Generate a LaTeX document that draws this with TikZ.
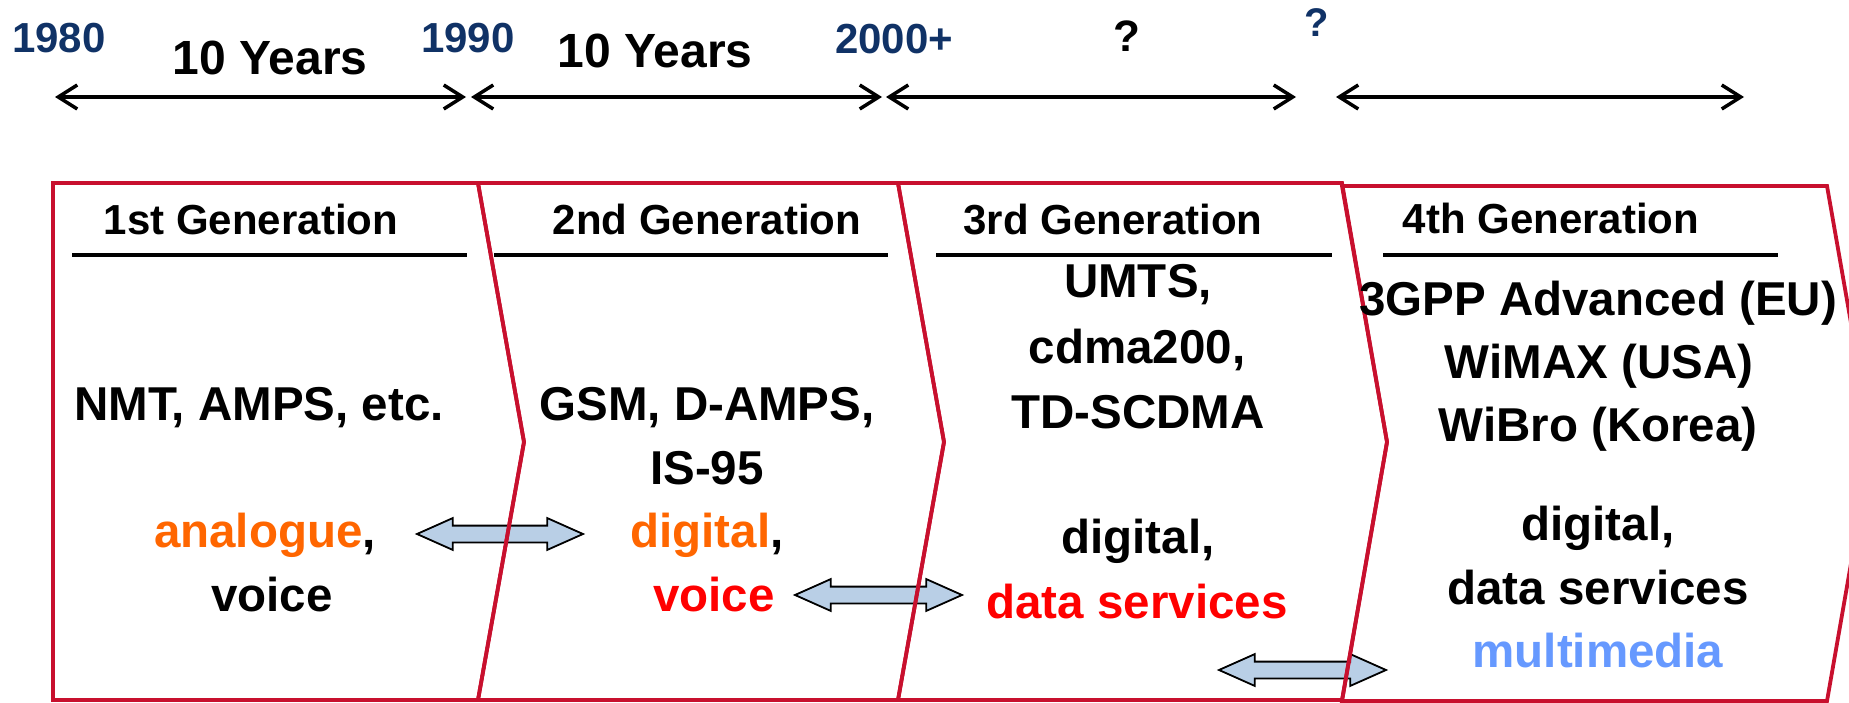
\documentclass[tikz,border=0pt]{standalone}
\usepackage{fontspec}
\setmainfont{Liberation Sans}
\usetikzlibrary{arrows.meta,shapes.arrows}
\definecolor{boxred}{RGB}{200,16,46}
\definecolor{navy}{RGB}{16,50,102}
\definecolor{orng}{RGB}{255,102,0}
\definecolor{txtred}{RGB}{255,0,0}
\definecolor{mmblue}{RGB}{102,153,255}
\definecolor{arrfill}{RGB}{185,207,230}
\begin{document}
\begin{tikzpicture}[x=1pt,y=-1pt,
  gen/.style={draw=boxred, line width=3.8pt, line join=miter},
  hdr/.style={anchor=base, inner sep=0pt, font=\bfseries\fontsize{42}{46}\selectfont},
  body/.style={anchor=base, inner sep=0pt, font=\bfseries\fontsize{47.5}{52}\selectfont},
  yr/.style={anchor=base, inner sep=0pt, text=navy, font=\bfseries\fontsize{42}{46}\selectfont},
  ylab/.style={anchor=base, inner sep=0pt, font=\bfseries\fontsize{48}{52}\selectfont},
  span/.style={line width=3.5pt, {Straight Barb[length=19pt,width=24pt]}-{Straight Barb[length=19pt,width=24pt]}},
  barr/.style={draw=black, fill=arrfill, line width=1.8pt, shape=double arrow, double arrow head extend=7.5pt, double arrow tip angle=48, inner sep=0pt},
  uline/.style={draw=black, line width=3.8pt}
]
\newcommand{\shaftstrut}{\rule{0pt}{15pt}}
\useasboundingbox (0,0) rectangle (1849,703);
\begin{scope}
\clip (0,0) rectangle (1849,703);

% timeline labels
\node[yr] (y1980) at (59,53) {1980};
\node[ylab] (d1) at (270,75) {10 Years};
\node[yr] (y1990) at (468,53) {1990};
\node[ylab] (d2) at (655,68) {10 Years};
\node[yr] (y2000) at (894,54) {2000+};
\node[anchor=base, inner sep=0pt, font=\bfseries\fontsize{44}{48}\selectfont] (q1) at (1127,52) {?};
\node[anchor=base, inner sep=0pt, text=navy, font=\bfseries\fontsize{40}{44}\selectfont] (q2) at (1317,37) {?};

% timeline arrows
\coordinate (a1l) at (55,97);  \coordinate (a1r) at (466,97);
\coordinate (a2l) at (471,97); \coordinate (a2r) at (882,97);
\coordinate (a3l) at (886,97); \coordinate (a3r) at (1296,97);
\coordinate (a4l) at (1336,97); \coordinate (a4r) at (1744,97);
\draw[span] (a1l) -- (a1r);
\draw[span] (a2l) -- (a2r);
\draw[span] (a3l) -- (a3r);
\draw[span] (a4l) -- (a4r);

% block arrows between generations
\node[barr, minimum height=166pt] (bA) at (500,534) {\shaftstrut};
\node[barr, minimum height=167pt] (bB) at (878.5,595) {\shaftstrut};
\node[barr, minimum height=167pt] (bC) at (1302.5,670) {\shaftstrut};

% generation chevrons
\draw[gen] (53,183) -- (478,183) -- (524,442) -- (478,700) -- (53,700) -- cycle;
\draw[gen] (478,183) -- (898,183) -- (944,442) -- (898,700) -- (478,700) -- (524,442) -- cycle;
\draw[gen] (898,183) -- (1342,183) -- (1387,442) -- (1342,700) -- (898,700) -- (944,442) -- cycle;
\draw[gen] (1342,186) -- (1827,186) -- (1872,443) -- (1827,701) -- (1342,701) -- (1387,442) -- cycle;

% headers
\node[hdr] (h1) at (251,235) {1st Generation};
\node[hdr] (h2) at (707,235) {2nd Generation};
\node[hdr] (h3) at (1113,235) {3rd Generation};
\node[hdr] (h4) at (1551,234) {4th Generation};
\coordinate (u1l) at (72,255);   \coordinate (u1r) at (467,255);
\coordinate (u2l) at (494,255);  \coordinate (u2r) at (888,255);
\coordinate (u3l) at (936,255);  \coordinate (u3r) at (1332,255);
\coordinate (u4l) at (1383,255); \coordinate (u4r) at (1778,255);
\draw[uline] (u1l) -- (u1r);
\draw[uline] (u2l) -- (u2r);
\draw[uline] (u3l) -- (u3r);
\draw[uline] (u4l) -- (u4r);

% 1st generation
\node[body] (g1a) at (259,420) {NMT, AMPS, etc.};
\node[body] (g1b) at (265,547) {\textcolor{orng}{analogue},};
\node[body] (g1c) at (272,611) {voice};

% 2nd generation
\node[body] (g2a) at (707,420) {GSM, D-AMPS,};
\node[body] (g2b) at (707,484) {IS-95};
\node[body] (g2c) at (707,547) {\textcolor{orng}{digital},};
\node[body, text=txtred] (g2d) at (714,611) {voice};

% 3rd generation
\node[body] (g3a) at (1138,298) {UMTS,};
\node[body] (g3b) at (1137,363) {cdma200,};
\node[body] (g3c) at (1138,428) {TD-SCDMA};
\node[body] (g3d) at (1138,553) {digital,};
\node[body, text=txtred] (g3e) at (1137,618) {data services};

% 4th generation
\node[body] (g4a) at (1598,315) {3GPP Advanced (EU)};
\node[body] (g4b) at (1599,378) {WiMAX (USA)};
\node[body] (g4c) at (1598,441) {WiBro (Korea)};
\node[body] (g4d) at (1598,540) {digital,};
\node[body] (g4e) at (1598,604) {data services};
\node[body, text=mmblue] (g4f) at (1598,667) {multimedia};
\end{scope}
\end{tikzpicture}
\end{document}
